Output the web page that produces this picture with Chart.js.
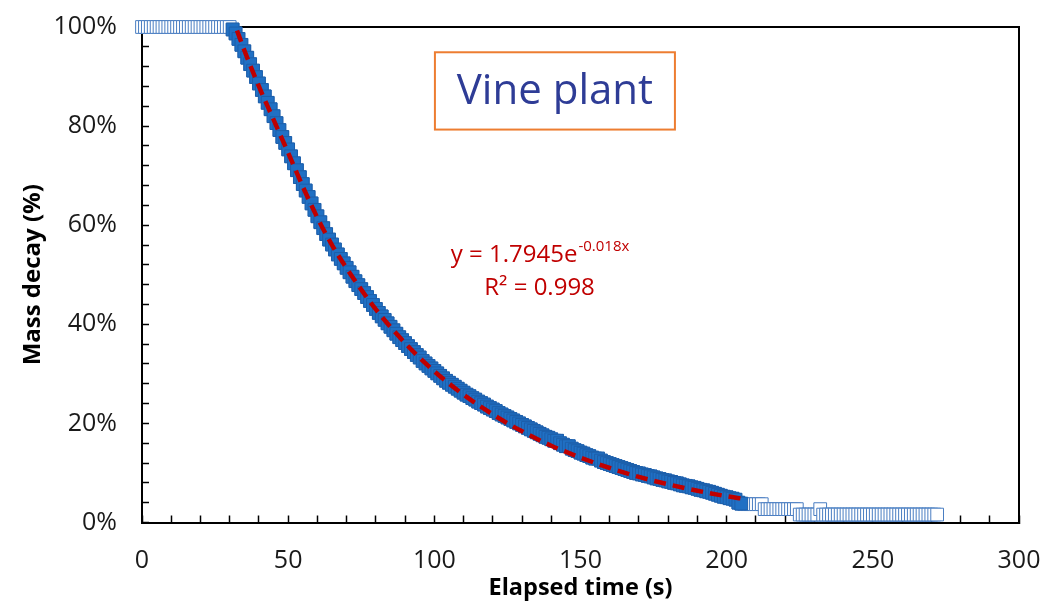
<!DOCTYPE html>
<html><head><meta charset="utf-8">
<script src="https://cdn.jsdelivr.net/npm/chart.js@4.4.1/dist/chart.umd.min.js"></script>
<style>html,body{margin:0;padding:0;background:#fff;} #wrap{width:1043px;height:603px;}</style>
</head><body><div id="wrap"><canvas id="c" width="1043" height="603"></canvas></div>
<script>
// ---- data ----
const elapsedTime = [0,1,2,3,4,5,6,7,8,9,10,11,12,13,14,15,16,17,18,19,20,21,22,23,24,25,26,27,28,29,30,
31,32,33,34,35,36,37,38,39,40,41,42,43,44,45,46,47,48,49,50,51,52,53,54,55,56,57,58,59,60,
61,62,63,64,65,66,67,68,69,70,71,72,73,74,75,76,77,78,79,80,81,82,83,84,85,86,87,88,89,90,
91,92,93,94,95,96,97,98,99,100,101,102,103,104,105,106,107,108,109,110,111,112,113,114,115,116,117,118,119,120,
121,122,123,124,125,126,127,128,129,130,131,132,133,134,135,136,137,138,139,140,141,142,143,144,145,146,147,148,149,150,
151,152,153,154,155,156,157,158,159,160,161,162,163,164,165,166,167,168,169,170,171,172,173,174,175,176,177,178,179,180,
181,182,183,184,185,186,187,188,189,190,191,192,193,194,195,196,197,198,199,200,201,202,203,204,205,206,207,208,209,210,
211,212,213,214,215,216,217,218,219,220,221,222,223,224,225,226,227,228,229,230,231,232,233,234,235,236,237,238,239,240,
241,242,243,244,245,246,247,248,249,250,251,252,253,254,255,256,257,258,259,260,261,262,263,264,265,266,267,268,269,270,
271,272];
const massDecay = [100,100,100,100,100,100,100,100,100,100,100,100,100,100,100,100,100,100,100,100,100,100,100,100,100,100,100,100,100,100,100,
99.5,98.7,97.6,96.4,95.1,93.8,92.5,91.2,89.9,88.6,
87.3,86.0,84.7,83.4,82.0,80.6,79.2,77.8,76.6,75.3,
73.9,72.5,71.1,69.7,68.3,67.0,65.7,64.4,63.1,61.8,
60.6,59.4,58.2,57.1,56.1,55.1,54.1,53.2,52.3,51.4,
50.5,49.6,48.7,47.9,47.1,46.3,45.5,44.7,43.9,43.1,
42.3,41.6,40.9,40.2,39.5,38.8,38.1,37.4,36.8,36.2,
35.6,35.0,34.4,33.8,33.3,32.6,32.1,31.6,31.1,30.6,
30.1,29.6,29.1,28.6,28.2,27.8,27.4,27.0,26.6,26.2,
25.8,25.5,25.1,24.8,24.4,24.1,23.8,23.4,23.1,22.8,
22.5,22.1,21.8,21.5,21.2,20.9,20.6,20.3,20.0,19.7,
19.4,19.1,18.8,18.5,18.2,17.9,17.6,17.3,17.1,16.8,
16.5,16.5,16.0,15.7,15.4,15.4,14.9,14.6,14.4,14.1,
13.9,13.6,13.4,13.1,12.9,12.9,12.5,12.2,12.0,11.8,
11.6,11.4,11.2,11.0,10.8,10.6,10.4,10.2,10.0,9.9,
9.7,9.6,9.4,9.3,9.1,8.9,8.8,8.6,8.5,8.3,
8.2,8.0,7.9,7.7,7.5,7.4,7.3,7.1,7.0,6.8,
6.6,6.5,6.3,6.2,6.0,5.8,5.6,5.4,5.2,5.1,
4.9,4.8,4.6,4.0,3.8,
3.7,3.7,3.7,3.7,3.7,3.7,3.7,
2.7,2.7,2.7,2.7,2.7,2.7,2.7,2.7,2.7,2.7,2.7,2.7,
1.6,1.6,1.6,1.6,1.6,1.6,1.6,2.7,
1.6,1.6,1.6,1.6,1.6,1.6,1.6,1.6,1.6,1.6,1.6,1.6,1.6,1.6,1.6,1.6,1.6,1.6,1.6,1.6,
1.6,1.6,1.6,1.6,1.6,1.6,1.6,1.6,1.6,1.6,1.6,1.6,1.6,1.6,1.6,1.6,1.6,1.6,1.6,1.6];
const fitRange = [31, 205];
const trendTime = [32.5,35,40,45,50,55,60,65,70,75,80,90,100,110,120,130,140,150,160,170,180,190,200,205.5];
const trendValue = [99.3,95.3,88.0,81.3,74.6,67.8,61.5,56.0,51.3,47.0,43.0,36.2,30.5,25.8,21.8,18.4,15.5,13.1,11.0,9.2,7.7,6.4,5.3,4.8];
const xLabelTicks = [0,50,100,150,200,250,300];
const yLabelTicks = [0,20,40,60,80,100];
const boxLabel = 'Vine plant';
const eqMain = 'y = 1.7945e';
const eqSup = '-0.018x';
const eqR2 = 'R² = 0.998';

// ---- build datasets ----
const allPoints = elapsedTime.map((t, i) => ({x: t, y: massDecay[i]}));
const fitPoints = allPoints.filter(p => p.x >= fitRange[0] && p.x <= fitRange[1]);
const trendPoints = trendTime.map((t, i) => ({x: t, y: trendValue[i]}));

const FONT = "'Open Sans', 'DejaVu Sans', sans-serif";

function noPad(s) { s.paddingLeft = 0; s.paddingRight = 0; s.paddingTop = 0; s.paddingBottom = 0; }

const framePlugin = {
  id: 'frame',
  beforeDatasetsDraw(chart) {
    const {ctx, chartArea: a} = chart;
    ctx.save();
    ctx.strokeStyle = '#000';
    ctx.lineWidth = 2;
    ctx.beginPath();
    ctx.moveTo(a.left, a.top);
    ctx.lineTo(a.right, a.top);
    ctx.lineTo(a.right, a.bottom);
    ctx.stroke();
    ctx.restore();
  }
};

const notesPlugin = {
  id: 'notes',
  afterDatasetsDraw(chart) {
    const {ctx, scales: {x, y}} = chart;
    ctx.save();
    // label box
    const bx1 = x.getPixelForValue(100.2), bx2 = x.getPixelForValue(182.3);
    const by1 = y.getPixelForValue(94.9), by2 = y.getPixelForValue(79.3);
    ctx.fillStyle = '#fff';
    ctx.fillRect(bx1, by1, bx2 - bx1, by2 - by1);
    ctx.strokeStyle = '#ED7D31';
    ctx.lineWidth = 2;
    ctx.strokeRect(bx1, by1, bx2 - bx1, by2 - by1);
    ctx.fillStyle = '#2E3C96';
    ctx.font = "42px " + FONT;
    ctx.textAlign = 'center';
    ctx.textBaseline = 'middle';
    ctx.fillText(boxLabel, (bx1 + bx2) / 2, (by1 + by2) / 2 + 1);
    // equation
    ctx.fillStyle = '#C00000';
    ctx.textBaseline = 'alphabetic';
    ctx.textAlign = 'left';
    const cx = x.getPixelForValue(136);
    const base1 = y.getPixelForValue(52.6);
    const base2 = y.getPixelForValue(46.0);
    ctx.font = "24px " + FONT;
    const w1 = ctx.measureText(eqMain).width;
    ctx.font = "15px " + FONT;
    const w2 = ctx.measureText(eqSup).width;
    const sx = cx - (w1 + w2) / 2;
    ctx.font = "24px " + FONT;
    ctx.fillText(eqMain, sx, base1);
    ctx.font = "15px " + FONT;
    ctx.fillText(eqSup, sx + w1 + 1, base1 - 11);
    ctx.font = "24px " + FONT;
    ctx.textAlign = 'center';
    ctx.fillText(eqR2, cx, base2);
    ctx.restore();
  }
};

new Chart(document.getElementById('c'), {
  type: 'scatter',
  data: {
    datasets: [
      {
        label: 'Exponential fit',
        type: 'line',
        data: trendPoints,
        showLine: true,
        borderColor: '#C00000',
        borderWidth: 4.5,
        borderDash: [12, 7],
        pointRadius: 0,
        cubicInterpolationMode: 'monotone',
        fill: false,
        clip: false
      },
      {
        label: 'Fitted range',
        data: fitPoints,
        pointStyle: 'rect',
        pointRadius: 9,
        backgroundColor: '#2070C4',
        borderColor: '#1D5FAA',
        borderWidth: 1,
        clip: false
      },
      {
        label: 'Mass decay',
        data: allPoints,
        pointStyle: 'rect',
        pointRadius: 9,
        backgroundColor: '#ffffff',
        borderColor: '#4A7EC2',
        borderWidth: 1,
        clip: false
      }
    ]
  },
  options: {
    responsive: false,
    animation: false,
    events: [],
    devicePixelRatio: 1,
    layout: {padding: {top: 27, right: 24, left: 0, bottom: 0}},
    plugins: {legend: {display: false}, tooltip: {enabled: false}, title: {display: false}},
    scales: {
      x: {
        type: 'linear', position: 'bottom', min: 0, max: 300,
        afterFit(s) { s.height = 80.5; noPad(s); },
        border: {display: true, color: '#000', width: 2},
        grid: {display: true, drawOnChartArea: false, drawTicks: true, tickLength: -7, tickColor: '#000', tickWidth: 1.5},
        ticks: {
          stepSize: 10, autoSkip: false, maxRotation: 0, padding: 30,
          color: '#1a1a1a', font: {family: FONT, size: 25},
          callback: v => xLabelTicks.includes(v) ? String(v) : ''
        },
        title: {display: true, text: 'Elapsed time (s)', color: '#000', font: {family: FONT, size: 23.5, weight: 'bold'}, padding: {top: 0, bottom: 1}}
      },
      y: {
        type: 'linear', position: 'left', min: 0, max: 100,
        afterFit(s) { s.width = 142; noPad(s); },
        border: {display: true, color: '#000', width: 2},
        grid: {display: true, drawOnChartArea: false, drawTicks: true, tickLength: -7, tickColor: '#000', tickWidth: 1.5},
        ticks: {
          stepSize: 4, autoSkip: false, padding: 32,
          color: '#1a1a1a', font: {family: FONT, size: 25},
          callback: v => yLabelTicks.includes(v) ? v + '%' : ''
        },
        title: {display: true, text: 'Mass decay (%)', color: '#000', font: {family: FONT, size: 24, weight: 'bold'}, padding: {top: 19, bottom: 0}}
      }
    }
  },
  plugins: [framePlugin, notesPlugin]
});
</script></body></html>
